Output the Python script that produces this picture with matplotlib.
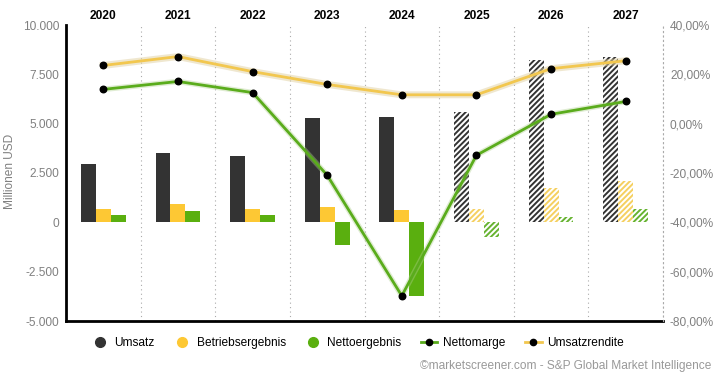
import matplotlib.pyplot as plt
import numpy as np
from matplotlib.lines import Line2D

plt.rcParams['font.family'] = ['Liberation Sans', 'DejaVu Sans']
plt.rcParams['hatch.linewidth'] = 1.4

years = ["2020", "2021", "2022", "2023", "2024", "2025", "2026", "2027"]
umsatz = [2960, 3520, 3380, 5290, 5340, 5590, 8220, 8370]
betrieb = [690, 940, 690, 790, 610, 660, 1750, 2070]
netto = [390, 590, 390, -1130, -3740, -740, 290, 690]
nettomarge = [13.9, 17.1, 12.6, -20.9, -69.8, -12.8, 3.8, 9.0]
umsatzrendite = [23.6, 27.2, 21.1, 15.9, 11.7, 11.7, 22.3, 25.5]
forecast = [False, False, False, False, False, True, True, True]

c_ums = "#333333"
c_bet = "#fdc834"
c_net = "#5aaf0f"
c_nm = "#5aac1c"
c_ur = "#f2c74f"
grey = "#808080"
fs = 8.6

fig = plt.figure(figsize=(7.13, 3.75), dpi=100)
ax = fig.add_axes([66 / 713, 1 - 321 / 375, (663 - 66) / 713, (321 - 25) / 375])
ax2 = ax.twinx()

x = np.arange(len(years))
w = 0.2
hatch_cols = {c_ums: "#333333", c_bet: "#f5d060", c_net: "#66b330"}
for vals, off, col in [(umsatz, -w, c_ums), (betrieb, 0, c_bet), (netto, w, c_net)]:
    for i, v in enumerate(vals):
        if forecast[i]:
            ax.bar(x[i] + off, v, w, color="white", edgecolor=hatch_cols[col],
                   hatch="//////", linewidth=0)
        else:
            ax.bar(x[i] + off, v, w, color=col, linewidth=0)

ax.set_ylim(-5000, 10000)
ax.set_xlim(-0.5, 7.5)
ax.set_yticks([-5000, -2500, 0, 2500, 5000, 7500, 10000])
ax.set_yticklabels(["-5.000", "-2.500", "0", "2.500", "5.000", "7.500", "10.000"])
ax.set_xticks([])
for s in ["top", "right"]:
    ax.spines[s].set_visible(False)
ax.spines["left"].set_linewidth(2)
ax.spines["bottom"].set_linewidth(2)
ax.tick_params(axis="y", length=0, labelsize=fs, colors=grey, pad=5)
fig.text(10 / 713, 1 - 171 / 375, "Millionen USD", rotation=90, ha="center", va="center",
         color=grey, fontsize=fs)

for i in range(len(years)):
    ax.axvline(i + 0.5, color="#aaaaaa", linestyle=(0, (1, 3)), linewidth=0.8, zorder=0)
    ax.text(x[i], 1.03, years[i], transform=ax.get_xaxis_transform(),
            ha="center", va="center", fontsize=fs, fontweight="bold")

# lines
ax2.plot(x, umsatzrendite, color="#e0d0a0", linewidth=5, alpha=0.5, zorder=2)
ax2.plot(x, umsatzrendite, color=c_ur, linewidth=2, zorder=3)
ax2.plot(x, nettomarge, color="#b0d090", linewidth=4, alpha=0.4, zorder=2)
ax2.plot(x, nettomarge, color=c_nm, linewidth=2, zorder=3)
ax2.scatter(x, umsatzrendite, s=22, color="black", zorder=4)
ax2.scatter(x, nettomarge, s=22, color="black", zorder=4)
ax2.set_ylim(-80, 40)
ax2.set_yticks([-80, -60, -40, -20, 0, 20, 40])
ax2.set_yticklabels(["-80,00%", "-60,00%", "-40,00%", "-20,00%", "0,00%", "20,00%", "40,00%"])
ax2.tick_params(axis="y", length=0, labelsize=fs, colors=grey, pad=5)
for s in ["top", "left", "bottom"]:
    ax2.spines[s].set_visible(False)
ax2.spines["right"].set_linestyle((0, (1, 3)))
ax2.spines["right"].set_color("#aaaaaa")
ax2.spines["right"].set_linewidth(0.8)

# legend
handles = [
    Line2D([], [], marker="o", linestyle="none", color=c_ums, markersize=7),
    Line2D([], [], marker="o", linestyle="none", color=c_bet, markersize=7),
    Line2D([], [], marker="o", linestyle="none", color=c_net, markersize=7),
    Line2D([], [], marker="o", color=c_nm, markerfacecolor="black", markeredgecolor="black", markersize=4.5, linewidth=2),
    Line2D([], [], marker="o", color=c_ur, markerfacecolor="black", markeredgecolor="black", markersize=4.5, linewidth=2),
]
labels = ["Umsatz", "Betriebsergebnis", "Nettoergebnis", "Nettomarge", "Umsatzrendite"]
fig.legend(handles, labels, loc="center", bbox_to_anchor=(358 / 713, 1 - 343 / 375), ncol=5,
           frameon=False, fontsize=fs, handlelength=1.4, columnspacing=1.6, handletextpad=0.5)

fig.text(711 / 713, 1 - 366 / 375, "©marketscreener.com - S&P Global Market Intelligence",
         ha="right", va="center", fontsize=fs, color="#999999")

fig.savefig("out.png", dpi=100)
